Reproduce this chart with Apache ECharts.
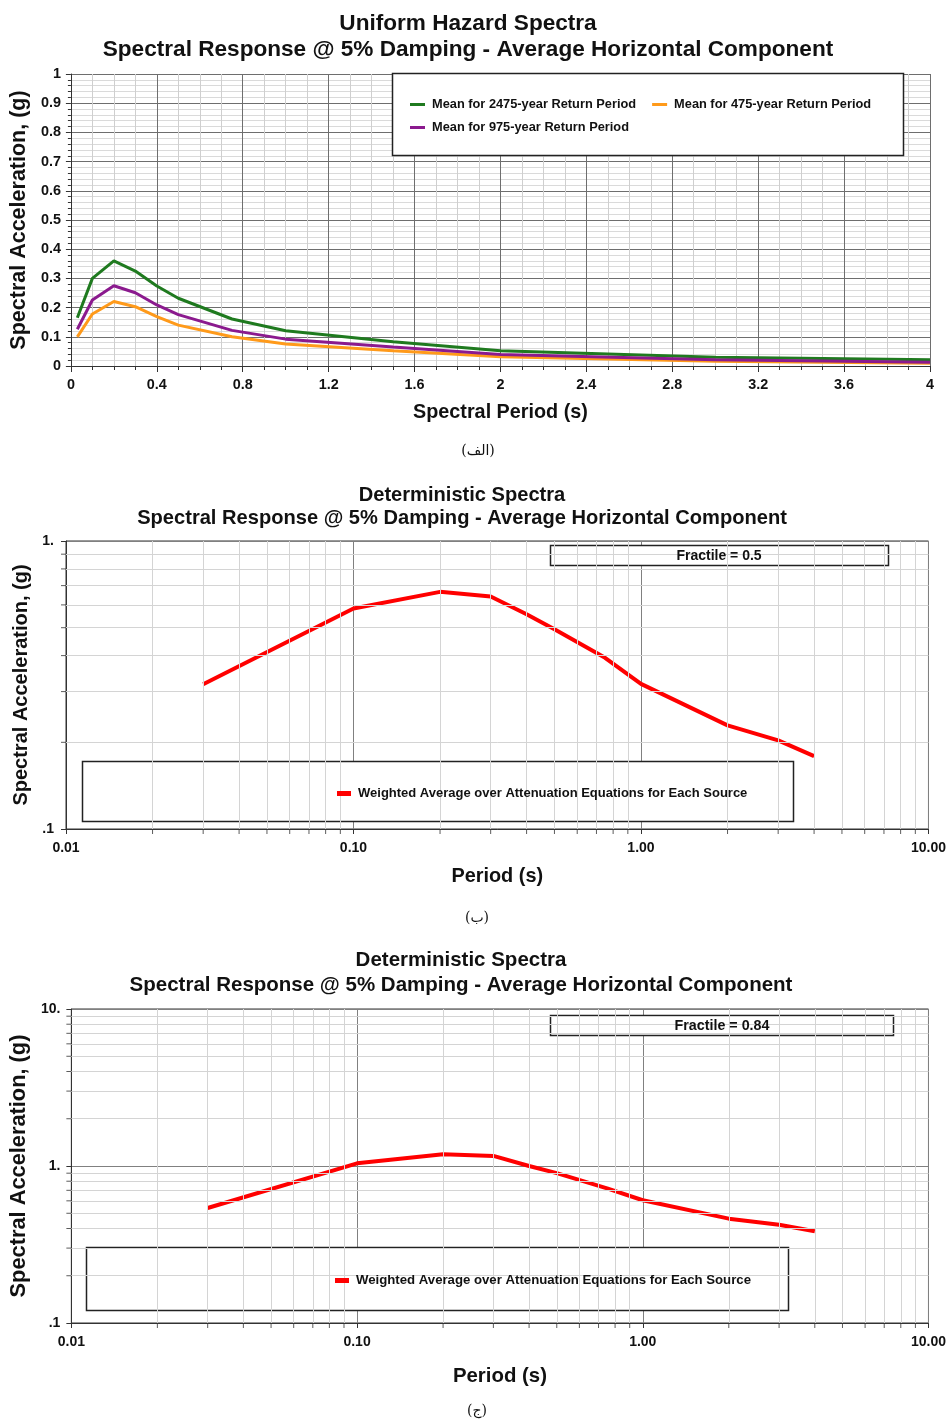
<!DOCTYPE html>
<html>
<head>
<meta charset="utf-8">
<script src="https://cdn.jsdelivr.net/npm/echarts@6/dist/echarts.min.js"></script>
<style>
html,body{margin:0;padding:0;background:#fff;}
#c{width:949px;height:1425px;}
</style>
</head>
<body>
<div id="c"></div>
<script>
// ---------- DATA ----------
const uhsPeriods = [0.03, 0.1, 0.2, 0.3, 0.4, 0.5, 0.75, 1.0, 1.5, 2.0, 3.0, 4.0];
const uhs2475 = [0.165, 0.300, 0.360, 0.325, 0.274, 0.232, 0.161, 0.121, 0.083, 0.052, 0.030, 0.021];
const uhs475  = [0.100, 0.178, 0.221, 0.203, 0.169, 0.140, 0.100, 0.075, 0.052, 0.032, 0.016, 0.009];
const uhs975  = [0.126, 0.226, 0.275, 0.251, 0.209, 0.176, 0.122, 0.092, 0.065, 0.039, 0.021, 0.013];

const detPeriods = [0.03, 0.1, 0.2, 0.3, 0.4, 0.5, 0.75, 1.0, 2.0, 3.0, 4.0];
const detFr50 = [0.318, 0.583, 0.666, 0.642, 0.557, 0.494, 0.393, 0.319, 0.229, 0.203, 0.179];
const detFr84 = [0.540, 1.040, 1.190, 1.160, 1.000, 0.900, 0.720, 0.605, 0.462, 0.423, 0.384];

const logXTickValues = [0.01, 0.1, 1, 10];
const logXTickLabels = ['0.01', '0.10', '1.00', '10.00'];
const logYTickValues = [0.1, 1, 10];
const logYTickLabels = ['.1', '1.', '10.'];
const minorX = [0.02,0.03,0.04,0.05,0.06,0.07,0.08,0.09,0.2,0.3,0.4,0.5,0.6,0.7,0.8,0.9,2,3,4,5,6,7,8,9];
const minorY2 = [0.2,0.3,0.4,0.5,0.6,0.7,0.8,0.9];
const minorY3 = [0.2,0.3,0.4,0.5,0.6,0.7,0.8,0.9,2,3,4,5,6,7,8,9];

const nameUHS = ['Mean for 2475-year Return Period', 'Mean for 475-year Return Period', 'Mean for 975-year Return Period'];
const nameDet = 'Weighted Average over Attenuation Equations for Each Source';

// ---------- STYLE ----------
const F = 'Liberation Sans, Arial, Helvetica, sans-serif';
const C_GREEN = '#1f7a1f', C_ORANGE = '#ff9a1a', C_PURPLE = '#8b1a8e', C_RED = '#ff0000';

function zip(xs, ys) { return xs.map((x, i) => [x, ys[i]]); }
function logLabel(vals, labels) {
  return function (v) {
    for (let i = 0; i < vals.length; i++) {
      if (Math.abs(Math.log10(v) - Math.log10(vals[i])) < 1e-6) return labels[i];
    }
    return '';
  };
}

const chart = echarts.init(document.getElementById('c'), null, { renderer: 'canvas' });

const lblStyle = (size, margin) => ({ fontFamily: F, fontWeight: 'bold', fontSize: size, color: '#111', margin: margin });
const nameStyle = (size) => ({ fontFamily: F, fontWeight: 'bold', fontSize: size, color: '#111' });

function logX(gi, nameGap, nameSize) {
  return {
    type: 'log', logBase: 10, gridIndex: gi, min: 0.01, max: 10,
    axisLine: { show: true, onZero: false, lineStyle: { color: '#333', width: 1 } },
    axisTick: { show: true, length: 5, lineStyle: { color: '#333' } },
    splitLine: { show: true, lineStyle: { color: '#808080', width: 1 } },
    axisLabel: Object.assign(lblStyle(14, 12), { formatter: logLabel(logXTickValues, logXTickLabels), showMinLabel: true, showMaxLabel: true }),
    name: 'Period (s)', nameLocation: 'middle', nameGap: nameGap, nameTextStyle: nameStyle(nameSize)
  };
}
function logY(gi, min, max, nameGap, nameSize, margin) {
  return {
    type: 'log', logBase: 10, gridIndex: gi, min: min, max: max,
    axisLine: { show: true, onZero: false, lineStyle: { color: '#333', width: 1 } },
    axisTick: { show: true, length: 5, lineStyle: { color: '#333' } },
    splitLine: { show: true, lineStyle: { color: '#808080', width: 1 } },
    axisLabel: Object.assign(lblStyle(14, margin), { formatter: logLabel(logYTickValues, logYTickLabels) }),
    name: 'Spectral Acceleration, (g)', nameLocation: 'middle', nameGap: nameGap, nameTextStyle: nameStyle(nameSize)
  };
}

function minorGridSeries(xi, yi, xs, ys) {
  return {
    type: 'line', xAxisIndex: xi, yAxisIndex: yi, data: [], silent: true, z: 1,
    markLine: {
      silent: true, symbol: ['none', 'none'], animation: false,
      label: { show: false },
      lineStyle: { color: '#d4d4d4', width: 1, type: 'solid' },
      emphasis: { disabled: true },
      data: xs.map(v => ({ xAxis: v })).concat(ys.map(v => ({ yAxis: v })))
    }
  };
}
function minorTickSeries(xi, yi, xs, ys, xmin, ymin) {
  const pts = xs.map(v => ({ value: [v, ymin], symbolSize: [1, 5], symbolOffset: [0, 2.5] }))
    .concat(ys.map(v => ({ value: [xmin, v], symbolSize: [5, 1], symbolOffset: [-2.5, 0] })));
  return {
    type: 'scatter', xAxisIndex: xi, yAxisIndex: yi, data: pts, symbol: 'rect', clip: false, silent: true,
    itemStyle: { color: '#333' }, z: 3
  };
}

const legendText = (size) => ({ fontFamily: F, fontWeight: 'bold', fontSize: size, color: '#111', padding: [0, 0, 0, 2] });

const option = {
  animation: false,
  backgroundColor: '#fff',
  grid: [
    { left: 69, top: 74, width: 861, height: 292, containLabel: false },
    { left: 66, top: 541, width: 863, height: 288, show: true, borderColor: '#333', borderWidth: 1, containLabel: false },
    { left: 66, top: 1009, width: 867, height: 314, show: true, borderColor: '#333', borderWidth: 1, containLabel: false }
  ],
  xAxis: [
    {
      type: 'value', gridIndex: 0, min: 0, max: 4, interval: 0.4,
      axisLine: { show: true, onZero: false, lineStyle: { color: '#333', width: 1 } },
      axisTick: { show: true, length: 6, lineStyle: { color: '#333' } },
      minorTick: { show: true, splitNumber: 4, length: 4, lineStyle: { color: '#333' } },
      splitLine: { show: true, lineStyle: { color: '#6e6e6e', width: 1 } },
      minorSplitLine: { show: true, lineStyle: { color: '#cfcfcf', width: 1 } },
      axisLabel: Object.assign(lblStyle(14.4, 12), { formatter: v => String(Math.round(v * 10) / 10), showMaxLabel: true }),
      name: 'Spectral Period (s)', nameLocation: 'middle', nameGap: 37, nameTextStyle: nameStyle(19.8)
    },
    logX(1, 38, 19.9),
    logX(2, 43, 20.4)
  ],
  yAxis: [
    {
      type: 'value', gridIndex: 0, min: 0, max: 1, interval: 0.1,
      axisLine: { show: true, onZero: false, lineStyle: { color: '#333', width: 1 } },
      axisTick: { show: true, length: 5, lineStyle: { color: '#333' } },
      minorTick: { show: true, splitNumber: 5, length: 3, lineStyle: { color: '#333' } },
      splitLine: { show: true, lineStyle: { color: '#6e6e6e', width: 1 } },
      minorSplitLine: { show: true, lineStyle: { color: '#dadada', width: 1 } },
      axisLabel: Object.assign(lblStyle(14.4, 10), { formatter: v => String(Math.round(v * 10) / 10) }),
      name: 'Spectral Acceleration, (g)', nameLocation: 'middle', nameGap: 40, nameTextStyle: nameStyle(21.5)
    },
    logY(1, 0.1, 1, 32, 20, 12),
    logY(2, 0.1, 10, 39, 21.8, 11)
  ],
  legend: [
    {
      z: 20, left: 410, top: 98, padding: 0, itemGap: 16, itemWidth: 15, itemHeight: 3, icon: 'rect',
      textStyle: legendText(12.8), data: [nameUHS[0], nameUHS[1]]
    },
    {
      z: 20, left: 410, top: 121, padding: 0, itemWidth: 15, itemHeight: 3, icon: 'rect',
      textStyle: legendText(12.8), data: [nameUHS[2]]
    },
    {
      z: 20, left: 337, top: 787, padding: 0, itemWidth: 14, itemHeight: 5, icon: 'rect',
      textStyle: legendText(13), data: [nameDet + ' ']
    },
    {
      z: 20, left: 335, top: 1274, padding: 0, itemWidth: 14, itemHeight: 5, icon: 'rect',
      textStyle: legendText(13.2), data: [nameDet]
    }
  ],
  graphic: [
    { type: 'rect', z: 5, shape: { x: 392.5, y: 73.5, width: 511, height: 82 }, style: { fill: '#fff', stroke: '#222', lineWidth: 1.5 } },
    { type: 'rect', z: 5, shape: { x: 550.5, y: 545.5, width: 338, height: 20 }, style: { fill: '#fff', stroke: '#222', lineWidth: 1.5 } },
    { type: 'text', z: 6, x: 719, y: 556, style: { text: 'Fractile = 0.5', font: 'bold 14px ' + F, fill: '#111', textAlign: 'center', textVerticalAlign: 'middle' } },
    { type: 'rect', z: 5, shape: { x: 82.5, y: 761.5, width: 711, height: 60 }, style: { fill: '#fff', stroke: '#222', lineWidth: 1.5 } },
    { type: 'rect', z: 5, shape: { x: 550.5, y: 1015.5, width: 343, height: 20 }, style: { fill: '#fff', stroke: '#222', lineWidth: 1.5 } },
    { type: 'text', z: 6, x: 722, y: 1026, style: { text: 'Fractile = 0.84', font: 'bold 14.3px ' + F, fill: '#111', textAlign: 'center', textVerticalAlign: 'middle' } },
    { type: 'rect', z: 5, shape: { x: 86.5, y: 1247.5, width: 702, height: 63 }, style: { fill: '#fff', stroke: '#222', lineWidth: 1.5 } },
    // titles
    { type: 'text', x: 468, y: 24, style: { text: 'Uniform Hazard Spectra', font: 'bold 22.6px ' + F, fill: '#111', textAlign: 'center', textVerticalAlign: 'middle' } },
    { type: 'text', x: 468, y: 50, style: { text: 'Spectral Response @ 5% Damping - Average Horizontal Component', font: 'bold 22.6px ' + F, fill: '#111', textAlign: 'center', textVerticalAlign: 'middle' } },
    { type: 'text', x: 462, y: 495, style: { text: 'Deterministic Spectra', font: 'bold 20.1px ' + F, fill: '#111', textAlign: 'center', textVerticalAlign: 'middle' } },
    { type: 'text', x: 462, y: 518, style: { text: 'Spectral Response @ 5% Damping - Average Horizontal Component', font: 'bold 20.1px ' + F, fill: '#111', textAlign: 'center', textVerticalAlign: 'middle' } },
    { type: 'text', x: 461, y: 960, style: { text: 'Deterministic Spectra', font: 'bold 20.5px ' + F, fill: '#111', textAlign: 'center', textVerticalAlign: 'middle' } },
    { type: 'text', x: 461, y: 985, style: { text: 'Spectral Response @ 5% Damping - Average Horizontal Component', font: 'bold 20.5px ' + F, fill: '#111', textAlign: 'center', textVerticalAlign: 'middle' } },
    // captions
    { type: 'text', x: 478, y: 451, style: { text: '(الف)', font: '14px DejaVu Serif, DejaVu Sans, serif', fill: '#111', textAlign: 'center', textVerticalAlign: 'middle' } },
    { type: 'text', x: 477, y: 918, style: { text: '(ب)', font: '14px DejaVu Serif, DejaVu Sans, serif', fill: '#111', textAlign: 'center', textVerticalAlign: 'middle' } },
    { type: 'text', x: 477, y: 1411, style: { text: '(ج)', font: '14px DejaVu Serif, DejaVu Sans, serif', fill: '#111', textAlign: 'center', textVerticalAlign: 'middle' } }
  ],
  series: [
    { name: nameUHS[0], type: 'line', xAxisIndex: 0, yAxisIndex: 0, data: zip(uhsPeriods, uhs2475), showSymbol: false, lineStyle: { color: C_GREEN, width: 3 }, itemStyle: { color: C_GREEN }, z: 4 },
    { name: nameUHS[1], type: 'line', xAxisIndex: 0, yAxisIndex: 0, data: zip(uhsPeriods, uhs475), showSymbol: false, lineStyle: { color: C_ORANGE, width: 3 }, itemStyle: { color: C_ORANGE }, z: 4 },
    { name: nameUHS[2], type: 'line', xAxisIndex: 0, yAxisIndex: 0, data: zip(uhsPeriods, uhs975), showSymbol: false, lineStyle: { color: C_PURPLE, width: 3 }, itemStyle: { color: C_PURPLE }, z: 4 },

    minorGridSeries(1, 1, minorX, minorY2),
    minorTickSeries(1, 1, minorX, minorY2, 0.01, 0.1),
    { name: nameDet + ' ', type: 'line', xAxisIndex: 1, yAxisIndex: 1, data: zip(detPeriods, detFr50), showSymbol: false, lineStyle: { color: C_RED, width: 4 }, itemStyle: { color: C_RED }, z: 4 },

    minorGridSeries(2, 2, minorX, minorY3),
    minorTickSeries(2, 2, minorX, minorY3, 0.01, 0.1),
    { name: nameDet, type: 'line', xAxisIndex: 2, yAxisIndex: 2, data: zip(detPeriods, detFr84), showSymbol: false, lineStyle: { color: C_RED, width: 4 }, itemStyle: { color: C_RED }, z: 4 }
  ]
};
chart.setOption(option);
</script>
</body>
</html>
